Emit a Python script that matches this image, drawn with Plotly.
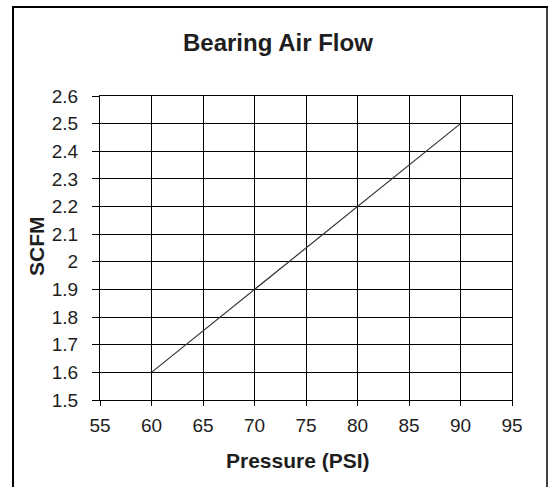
import plotly.graph_objects as go

pressure = [60, 70, 80, 90]
scfm = [1.6, 1.9, 2.2, 2.5]
x_ticks = [55, 60, 65, 70, 75, 80, 85, 90, 95]
y_ticks = [1.5, 1.6, 1.7, 1.8, 1.9, 2.0, 2.1, 2.2, 2.3, 2.4, 2.5, 2.6]
y_labels = ["1.5", "1.6", "1.7", "1.8", "1.9", "2", "2.1", "2.2", "2.3", "2.4", "2.5", "2.6"]

W, H = 557, 487
L, R, T, B = 100, 512, 96, 400
pw, ph = R - L, B - T

def px(x):
    return (x - L) / pw

def py(y):
    return (B - y) / ph

FONT = "Liberation Sans, Arial, sans-serif"

fig = go.Figure()
fig.add_trace(go.Scatter(x=pressure, y=scfm, mode="lines",
                         line=dict(color="#333333", width=1.2), showlegend=False,
                         hoverinfo="skip"))

axis_common = dict(showgrid=True, gridcolor="black", gridwidth=1,
                   showline=True, linecolor="black", linewidth=1, mirror=True,
                   ticks="outside", tickcolor="black", tickwidth=1,
                   tickfont=dict(family=FONT, size=19, color="#1e1e1e"),
                   zeroline=False, fixedrange=True)

fig.update_xaxes(range=[55, 95], tickvals=x_ticks, ticktext=[str(v) for v in x_ticks],
                 ticklen=5, ticklabelstandoff=3, **axis_common)
fig.update_yaxes(range=[1.5, 2.6], tickvals=y_ticks, ticktext=y_labels,
                 ticklen=7, ticklabelstandoff=10, **axis_common)

annotations = [
    dict(text="<b>Bearing Air Flow</b>", x=px(278), y=py(43), xref="paper", yref="paper",
         showarrow=False, xanchor="center", yanchor="middle",
         font=dict(family=FONT, size=24, color="#1e1e1e")),
    dict(text="<b>Pressure (PSI)</b>", x=px(298), y=py(460), xref="paper", yref="paper",
         showarrow=False, xanchor="center", yanchor="middle",
         font=dict(family=FONT, size=21, color="#1e1e1e")),
    dict(text="<b>SCFM</b>", x=px(36), y=py(246), xref="paper", yref="paper",
         showarrow=False, xanchor="center", yanchor="middle", textangle=-90,
         font=dict(family=FONT, size=21, color="#1e1e1e")),
]

shapes = [
    dict(type="line", xref="paper", yref="paper", x0=px(12), x1=px(548), y0=py(7), y1=py(7),
         line=dict(color="black", width=2)),
    dict(type="line", xref="paper", yref="paper", x0=px(13), x1=px(13), y0=py(7), y1=py(H + 20),
         line=dict(color="black", width=2)),
    dict(type="line", xref="paper", yref="paper", x0=px(547), x1=px(547), y0=py(7), y1=py(H + 20),
         line=dict(color="black", width=1.5)),
]

fig.update_layout(width=W, height=H, margin=dict(l=L, r=W - R, t=T, b=H - B),
                  paper_bgcolor="white", plot_bgcolor="white",
                  annotations=annotations, shapes=shapes, showlegend=False)

fig.write_html("out.html", config={"displayModeBar": False},
               post_script="document.body.style.margin='0';document.body.style.overflow='hidden';")
